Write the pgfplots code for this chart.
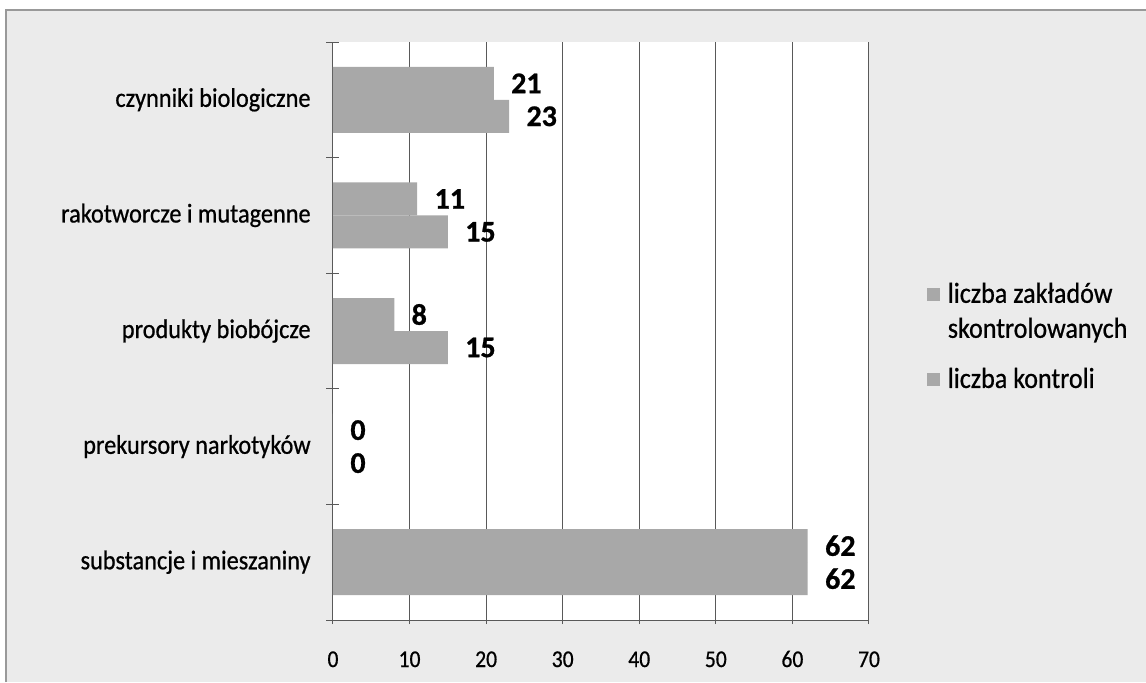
\documentclass[border=0pt]{standalone}
\usepackage{fontspec}
\setmainfont{Carlito}
\newfontfamily\cfont[FakeStretch=0.9, FakeBold=0.7]{Carlito}
\newfontfamily\nfont[BoldFeatures={FakeBold=0.8}]{Carlito}
\usepackage{pgfplots}
\pgfplotsset{compat=1.18}
\definecolor{bg}{gray}{0.92}
\definecolor{barfill}{gray}{0.66}
\definecolor{gridc}{gray}{0.35}
\begin{document}
\begin{tikzpicture}
\useasboundingbox (0,0) rectangle (573pt,341pt);
\fill[bg] (3pt,0) rectangle (573pt,336pt);
\draw[gray!80, line width=0.6pt] (3pt,0) -- (3pt,336pt) -- (573pt,336pt);
\begin{axis}[
  at={(166.5pt,31pt)}, anchor=south west,
  scale only axis, width=268pt, height=289pt,
  xbar=0pt, bar width=16.5pt,
  xmin=0, xmax=70, ymin=-0.5, ymax=4.5,
  xtick={0,10,...,70},
  ytick={0,1,2,3,4},
  yticklabels={substancje i mieszaniny, prekursory narkotyków, produkty biobójcze, rakotworcze i mutagenne, czynniki biologiczne},
  minor ytick={-0.5,0.5,...,4.5},
  tick align=outside, major tick length=4pt, minor tick length=6.5pt,
  every major y tick/.append style={draw opacity=0},
  axis lines=left, axis line style={-, gridc, line width=0.5pt},
  xmajorgrids, grid style={gridc, line width=0.5pt},
  tick style={gridc, line width=0.5pt},
  axis background/.style={fill=white},
  /pgf/number format/assume math mode=true,
  xticklabel style={font=\cfont\fontsize{12}{12}\selectfont, anchor=base, inner sep=0pt, yshift=-21.5pt},
  yticklabel style={font=\cfont\fontsize{13.5}{13.5}\selectfont, anchor=east, inner sep=0pt, xshift=-9pt},
  nodes near coords,
  nodes near coords style={font=\nfont\fontsize{15}{15}\selectfont\bfseries, anchor=west, inner sep=0pt, xshift=8.5pt, black},
  legend style={at={(1.096,0.49)}, anchor=west, draw=none, fill=none,
    font=\cfont\fontsize{14.5}{17.5}\selectfont, cells={anchor=west, align=left}, row sep=9.5pt},
]
\addplot[fill=barfill, draw=none, bar shift=8.25pt,
  legend image code/.code={\fill[barfill] (-4pt,5.5pt) rectangle (2.5pt,12pt); \path (4.5pt,0pt);}]
  coordinates {(62,0) (0,1) (8,2) (11,3) (21,4)};
\addlegendentry{liczba zakładów\\skontrolowanych}
\addplot[fill=barfill, draw=none, bar shift=-8.25pt,
  legend image code/.code={\fill[barfill] (-4pt,-3.25pt) rectangle (2.5pt,3.25pt); \path (4.5pt,0pt);}]
  coordinates {(62,0) (0,1) (15,2) (15,3) (23,4)};
\addlegendentry{liczba kontroli}
\end{axis}
\end{tikzpicture}
\end{document}
